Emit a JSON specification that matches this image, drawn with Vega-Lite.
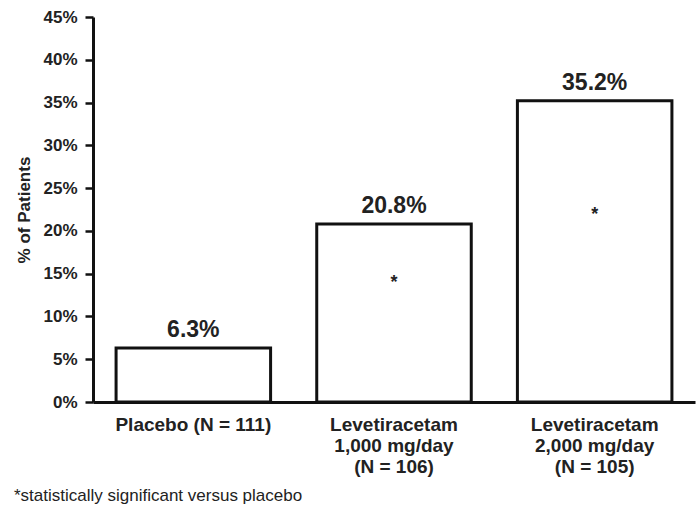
{
  "$schema": "https://vega.github.io/schema/vega-lite/v6.json",
  "width": 602,
  "height": 385,
  "autosize": {"type": "none"},
  "padding": {"left": 93, "top": 17, "right": 2, "bottom": 108},
  "background": "white",
  "config": {
    "font": "Liberation Sans",
    "view": {"stroke": null}
  },
  "title": {
    "text": "*statistically significant versus placebo",
    "orient": "bottom",
    "anchor": "start",
    "frame": "bounds",
    "fontSize": 17,
    "fontWeight": "normal",
    "color": "#222",
    "offset": 12,
    "dx": -2
  },
  "data": {
    "values": [
      {"group": "Placebo (N = 111)", "value": 6.3, "label": "6.3%", "star": null},
      {"group": "Levetiracetam|1,000 mg/day|(N = 106)", "value": 20.8, "label": "20.8%", "star": 13.9},
      {"group": "Levetiracetam|2,000 mg/day|(N = 105)", "value": 35.2, "label": "35.2%", "star": 21.9}
    ]
  },
  "encoding": {
    "x": {
      "field": "group",
      "type": "nominal",
      "sort": null,
      "scale": {"paddingInner": 0.23, "paddingOuter": 0.115},
      "axis": {
        "title": null,
        "labelAngle": 0,
        "labelExpr": "split(datum.label, '|')",
        "labelFont": "Liberation Sans",
        "labelFontWeight": "bold",
        "labelFontSize": 19,
        "labelColor": "#222",
        "labelLineHeight": 21,
        "labelPadding": 13,
        "ticks": false,
        "domainColor": "#111",
        "domainWidth": 3
      }
    }
  },
  "layer": [
    {
      "mark": {"type": "bar", "fill": "white", "stroke": "#111", "strokeWidth": 3},
      "encoding": {
        "y": {
          "field": "value",
          "type": "quantitative",
          "scale": {"domain": [0, 45], "nice": false},
          "axis": {
            "title": "% of Patients",
            "titleFontSize": 17,
            "titleFontWeight": "bold",
            "titleColor": "#222",
            "titlePadding": 9,
            "values": [0, 5, 10, 15, 20, 25, 30, 35, 40, 45],
            "labelExpr": "datum.value + '%'",
            "labelFontSize": 17,
            "labelFontWeight": "bold",
            "labelColor": "#222",
            "labelPadding": 8,
            "tickSize": 8,
            "tickWidth": 2.5,
            "tickColor": "#111",
            "domainColor": "#111",
            "domainWidth": 3,
            "grid": false
          }
        }
      }
    },
    {
      "mark": {"type": "text", "baseline": "alphabetic", "dy": -11, "fontSize": 23, "fontWeight": "bold", "color": "#222"},
      "encoding": {
        "y": {"field": "value", "type": "quantitative"},
        "text": {"field": "label"}
      }
    },
    {
      "transform": [{"filter": "datum.star != null"}],
      "mark": {"type": "text", "baseline": "middle", "fontSize": 18, "fontWeight": "bold", "color": "#222"},
      "encoding": {
        "y": {"field": "star", "type": "quantitative"},
        "text": {"value": "*"}
      }
    }
  ]
}
